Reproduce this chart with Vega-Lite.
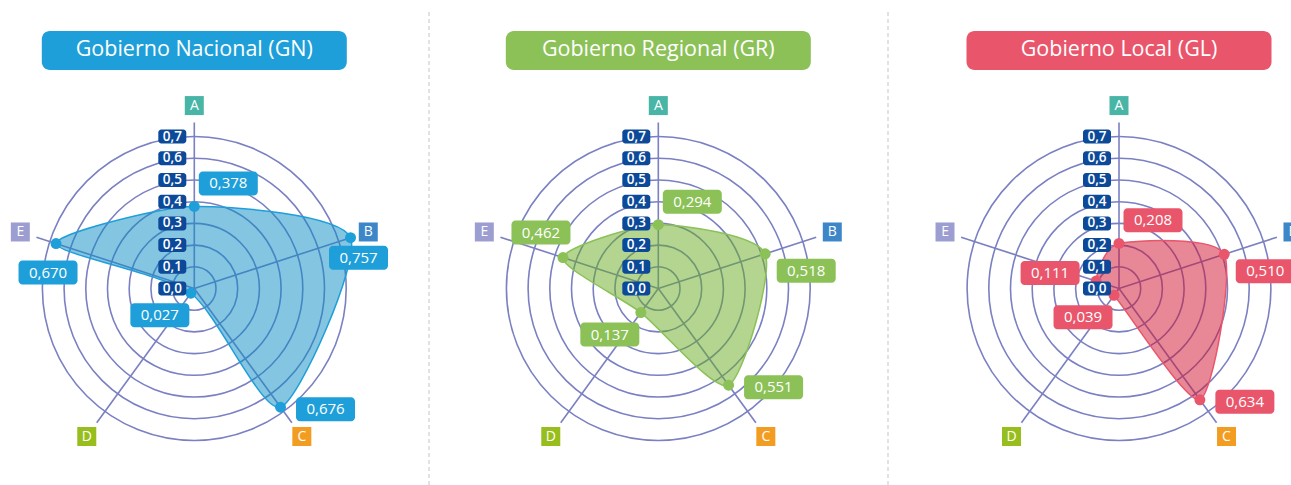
{
"$schema":"https://vega.github.io/schema/vega-lite/v6.json",
"padding":0,
"spacing":0,
"bounds":"flush",
"config":{"view":{"stroke":null},"locale":{"number":{"decimal":",","thousands":".","grouping":[3],"currency":["","€"]}},"text":{"font":"Open Sans"}},
"datasets":{
"vals":[
{"group":"GN","axis":"A","value":0.378},{"group":"GN","axis":"B","value":0.757},{"group":"GN","axis":"C","value":0.676},{"group":"GN","axis":"D","value":0.027},{"group":"GN","axis":"E","value":0.670},
{"group":"GR","axis":"A","value":0.294},{"group":"GR","axis":"B","value":0.518},{"group":"GR","axis":"C","value":0.551},{"group":"GR","axis":"D","value":0.137},{"group":"GR","axis":"E","value":0.462},
{"group":"GL","axis":"A","value":0.208},{"group":"GL","axis":"B","value":0.510},{"group":"GL","axis":"C","value":0.634},{"group":"GL","axis":"D","value":0.039},{"group":"GL","axis":"E","value":0.111}
],
"axes":[{"axis":"A"},{"axis":"B"},{"axis":"C"},{"axis":"D"},{"axis":"E"}],
"ticks":[{"r":0},{"r":0.1},{"r":0.2},{"r":0.3},{"r":0.4},{"r":0.5},{"r":0.6},{"r":0.7}],
"titles":[{"group":"GN","title":"Gobierno Nacional (GN)"},{"group":"GR","title":"Gobierno Regional (GR)"},{"group":"GL","title":"Gobierno Local (GL)"}]
},
"hconcat":[
{"width":429,"height":485,"layer":[
{"data":{"name":"titles"},"transform":[{"filter":"datum.group=='GN'"}],"mark":{"type":"rule","stroke":"#d9d9d9","strokeWidth":1.5,"strokeDash":[4,3]},"encoding":{"x":{"datum":1.0816,"type":"quantitative","scale":{"domain":[-0.8954,1.0816],"nice":false,"zero":false},"axis":null},"y":{"datum":1.2742,"type":"quantitative","scale":{"domain":[-0.9055,1.3295],"nice":false,"zero":false},"axis":null},"y2":{"datum":-0.9055}}},
{"data":{"name":"ticks"},"transform":[{"filter":"datum.r > 0"}],"mark":{"type":"point","shape":"circle","filled":false,"stroke":"#7a80c2","strokeWidth":1.6,"opacity":1},"encoding":{"x":{"datum":0,"type":"quantitative","scale":{"domain":[-0.8954,1.0816],"nice":false,"zero":false},"axis":null},"y":{"datum":0,"type":"quantitative","scale":{"domain":[-0.9055,1.3295],"nice":false,"zero":false},"axis":null},"size":{"field":"r","type":"quantitative","scale":{"type":"pow","exponent":2,"domain":[0,1],"range":[0,188356]},"legend":null}}},
{"data":{"name":"axes"},"transform":[{"calculate":"PI/2 - indexof(['A','B','C','D','E'], datum.axis)*2*PI/5","as":"ang"},{"calculate":"0.765*cos(datum.ang)","as":"ex"},{"calculate":"0.765*sin(datum.ang)","as":"ey"}],"mark":{"type":"rule","stroke":"#7a80c2","strokeWidth":1.6},"encoding":{"x":{"field":"ex","type":"quantitative","scale":{"domain":[-0.8954,1.0816],"nice":false,"zero":false},"axis":null},"y":{"field":"ey","type":"quantitative","scale":{"domain":[-0.9055,1.3295],"nice":false,"zero":false},"axis":null},"x2":{"datum":0},"y2":{"datum":0}}},
{"data":{"name":"vals"},"transform":[{"filter":"datum.group=='GN'"},{"calculate":"indexof(['A','B','C','D','E'], datum.axis)","as":"idx"},{"calculate":"PI/2 - datum.idx*2*PI/5","as":"ang"},{"calculate":"datum.value*cos(datum.ang)","as":"px"},{"calculate":"datum.value*sin(datum.ang)","as":"py"}],"mark":{"type":"line","interpolate":"cardinal-closed","tension":0.3,"filled":true,"fill":"#0a8cc4","fillOpacity":0.5,"stroke":"#1e9fd9","strokeWidth":1.5},"encoding":{"x":{"field":"px","type":"quantitative","scale":{"domain":[-0.8954,1.0816],"nice":false,"zero":false},"axis":null},"y":{"field":"py","type":"quantitative","scale":{"domain":[-0.9055,1.3295],"nice":false,"zero":false},"axis":null},"order":{"field":"idx","type":"quantitative"}}},
{"data":{"name":"vals"},"transform":[{"filter":"datum.group=='GN'"},{"calculate":"indexof(['A','B','C','D','E'], datum.axis)","as":"idx"},{"calculate":"PI/2 - datum.idx*2*PI/5","as":"ang"},{"calculate":"datum.value*cos(datum.ang)","as":"px"},{"calculate":"datum.value*sin(datum.ang)","as":"py"}],"mark":{"type":"point","shape":"circle","filled":true,"fill":"#1e9fd9","size":120,"opacity":1,"strokeWidth":0},"encoding":{"x":{"field":"px","type":"quantitative","scale":{"domain":[-0.8954,1.0816],"nice":false,"zero":false},"axis":null},"y":{"field":"py","type":"quantitative","scale":{"domain":[-0.9055,1.3295],"nice":false,"zero":false},"axis":null}}},
{"data":{"name":"ticks"},"mark":{"type":"point","shape":"M-33,-7H-11A3,3 0 0 1 -8,-4V4A3,3 0 0 1 -11,7H-33A3,3 0 0 1 -36,4V-4A3,3 0 0 1 -33,-7Z","size":4,"filled":true,"fill":"#0c4a99","opacity":1,"strokeWidth":0},"encoding":{"x":{"datum":0,"type":"quantitative","scale":{"domain":[-0.8954,1.0816],"nice":false,"zero":false},"axis":null},"y":{"field":"r","type":"quantitative","scale":{"domain":[-0.9055,1.3295],"nice":false,"zero":false},"axis":null}}},
{"data":{"name":"ticks"},"mark":{"type":"text","dx":-22,"align":"center","baseline":"middle","fontSize":13.5,"fontWeight":600,"fill":"#ffffff"},"encoding":{"x":{"datum":0,"type":"quantitative","scale":{"domain":[-0.8954,1.0816],"nice":false,"zero":false},"axis":null},"y":{"field":"r","type":"quantitative","scale":{"domain":[-0.9055,1.3295],"nice":false,"zero":false},"axis":null},"text":{"field":"r","type":"quantitative","format":".1f"}}},
{"data":{"name":"axes"},"transform":[{"calculate":"PI/2 - indexof(['A','B','C','D','E'], datum.axis)*2*PI/5","as":"ang"},{"calculate":"0.843*cos(datum.ang)","as":"lx"},{"calculate":"0.843*sin(datum.ang)","as":"ly"}],"mark":{"type":"point","shape":"square","size":361,"filled":true,"opacity":1,"strokeWidth":0},"encoding":{"x":{"field":"lx","type":"quantitative","scale":{"domain":[-0.8954,1.0816],"nice":false,"zero":false},"axis":null},"y":{"field":"ly","type":"quantitative","scale":{"domain":[-0.9055,1.3295],"nice":false,"zero":false},"axis":null},"color":{"field":"axis","type":"nominal","scale":{"domain":["A","B","C","D","E"],"range":["#48b5a7","#3d87c8","#f39c22","#97be1d","#9c9ed1"]},"legend":null}}},
{"data":{"name":"axes"},"transform":[{"calculate":"PI/2 - indexof(['A','B','C','D','E'], datum.axis)*2*PI/5","as":"ang"},{"calculate":"0.843*cos(datum.ang)","as":"lx"},{"calculate":"0.843*sin(datum.ang)","as":"ly"}],"mark":{"type":"text","align":"center","baseline":"middle","fontSize":14,"fill":"#ffffff"},"encoding":{"x":{"field":"lx","type":"quantitative","scale":{"domain":[-0.8954,1.0816],"nice":false,"zero":false},"axis":null},"y":{"field":"ly","type":"quantitative","scale":{"domain":[-0.9055,1.3295],"nice":false,"zero":false},"axis":null},"text":{"field":"axis","type":"nominal"}}},
{"data":{"name":"vals"},"transform":[{"filter":"datum.group=='GN'"},{"calculate":"PI/2 - indexof(['A','B','C','D','E'], datum.axis)*2*PI/5","as":"ang"},{"calculate":"datum.axis=='A' ? 34 : datum.axis=='B' ? (datum.group=='GN' ? 8 : 41) : datum.axis=='C' ? 45 : datum.axis=='D' ? -31 : (datum.group=='GN' ? -8 : datum.group=='GR' ? -22 : -46)","as":"ox"},{"calculate":"datum.axis=='A' ? -23 : datum.axis=='B' ? (datum.group=='GN' ? 20 : 17) : datum.axis=='C' ? 2 : datum.axis=='D' ? 22 : (datum.group=='GN' ? 29 : datum.group=='GR' ? -25 : -8)","as":"oy"},{"calculate":"datum.value*cos(datum.ang) + datum.ox/217","as":"lx"},{"calculate":"datum.value*sin(datum.ang) - datum.oy/217","as":"ly"}],"mark":{"type":"point","shape":"M-25.5,-12H25.5A4,4 0 0 1 29.5,-8V8A4,4 0 0 1 25.5,12H-25.5A4,4 0 0 1 -29.5,8V-8A4,4 0 0 1 -25.5,-12Z","size":4,"filled":true,"fill":"#1e9fd9","opacity":1,"strokeWidth":0},"encoding":{"x":{"field":"lx","type":"quantitative","scale":{"domain":[-0.8954,1.0816],"nice":false,"zero":false},"axis":null},"y":{"field":"ly","type":"quantitative","scale":{"domain":[-0.9055,1.3295],"nice":false,"zero":false},"axis":null}}},
{"data":{"name":"vals"},"transform":[{"filter":"datum.group=='GN'"},{"calculate":"PI/2 - indexof(['A','B','C','D','E'], datum.axis)*2*PI/5","as":"ang"},{"calculate":"datum.axis=='A' ? 34 : datum.axis=='B' ? (datum.group=='GN' ? 8 : 41) : datum.axis=='C' ? 45 : datum.axis=='D' ? -31 : (datum.group=='GN' ? -8 : datum.group=='GR' ? -22 : -46)","as":"ox"},{"calculate":"datum.axis=='A' ? -23 : datum.axis=='B' ? (datum.group=='GN' ? 20 : 17) : datum.axis=='C' ? 2 : datum.axis=='D' ? 22 : (datum.group=='GN' ? 29 : datum.group=='GR' ? -25 : -8)","as":"oy"},{"calculate":"datum.value*cos(datum.ang) + datum.ox/217","as":"lx"},{"calculate":"datum.value*sin(datum.ang) - datum.oy/217","as":"ly"}],"mark":{"type":"text","align":"center","baseline":"middle","fontSize":15,"fill":"#ffffff"},"encoding":{"x":{"field":"lx","type":"quantitative","scale":{"domain":[-0.8954,1.0816],"nice":false,"zero":false},"axis":null},"y":{"field":"ly","type":"quantitative","scale":{"domain":[-0.9055,1.3295],"nice":false,"zero":false},"axis":null},"text":{"field":"value","type":"quantitative","format":".3f"}}},
{"data":{"name":"titles"},"transform":[{"filter":"datum.group=='GN'"}],"mark":{"type":"point","shape":"M-144.5,-19.5H144.5A8,8 0 0 1 152.5,-11.5V11.5A8,8 0 0 1 144.5,19.5H-144.5A8,8 0 0 1 -152.5,11.5V-11.5A8,8 0 0 1 -144.5,-19.5Z","size":4,"filled":true,"fill":"#1e9fd9","opacity":1,"strokeWidth":0},"encoding":{"x":{"datum":0,"type":"quantitative","scale":{"domain":[-0.8954,1.0816],"nice":false,"zero":false},"axis":null},"y":{"datum":1.0968,"type":"quantitative","scale":{"domain":[-0.9055,1.3295],"nice":false,"zero":false},"axis":null}}},
{"data":{"name":"titles"},"transform":[{"filter":"datum.group=='GN'"}],"mark":{"type":"text","align":"center","baseline":"middle","fontSize":21.5,"fill":"#ffffff"},"encoding":{"x":{"datum":0,"type":"quantitative","scale":{"domain":[-0.8954,1.0816],"nice":false,"zero":false},"axis":null},"y":{"datum":1.0968,"type":"quantitative","scale":{"domain":[-0.9055,1.3295],"nice":false,"zero":false},"axis":null},"text":{"field":"title","type":"nominal"}}}
]},
{"width":459,"height":485,"layer":[
{"data":{"name":"titles"},"transform":[{"filter":"datum.group=='GR'"}],"mark":{"type":"rule","stroke":"#d9d9d9","strokeWidth":1.5,"strokeDash":[4,3]},"encoding":{"x":{"datum":1.0585,"type":"quantitative","scale":{"domain":[-1.0567,1.0585],"nice":false,"zero":false},"axis":null},"y":{"datum":1.2742,"type":"quantitative","scale":{"domain":[-0.9055,1.3295],"nice":false,"zero":false},"axis":null},"y2":{"datum":-0.9055}}},
{"data":{"name":"ticks"},"transform":[{"filter":"datum.r > 0"}],"mark":{"type":"point","shape":"circle","filled":false,"stroke":"#7a80c2","strokeWidth":1.6,"opacity":1},"encoding":{"x":{"datum":0,"type":"quantitative","scale":{"domain":[-1.0567,1.0585],"nice":false,"zero":false},"axis":null},"y":{"datum":0,"type":"quantitative","scale":{"domain":[-0.9055,1.3295],"nice":false,"zero":false},"axis":null},"size":{"field":"r","type":"quantitative","scale":{"type":"pow","exponent":2,"domain":[0,1],"range":[0,188356]},"legend":null}}},
{"data":{"name":"axes"},"transform":[{"calculate":"PI/2 - indexof(['A','B','C','D','E'], datum.axis)*2*PI/5","as":"ang"},{"calculate":"0.765*cos(datum.ang)","as":"ex"},{"calculate":"0.765*sin(datum.ang)","as":"ey"}],"mark":{"type":"rule","stroke":"#7a80c2","strokeWidth":1.6},"encoding":{"x":{"field":"ex","type":"quantitative","scale":{"domain":[-1.0567,1.0585],"nice":false,"zero":false},"axis":null},"y":{"field":"ey","type":"quantitative","scale":{"domain":[-0.9055,1.3295],"nice":false,"zero":false},"axis":null},"x2":{"datum":0},"y2":{"datum":0}}},
{"data":{"name":"vals"},"transform":[{"filter":"datum.group=='GR'"},{"calculate":"indexof(['A','B','C','D','E'], datum.axis)","as":"idx"},{"calculate":"PI/2 - datum.idx*2*PI/5","as":"ang"},{"calculate":"datum.value*cos(datum.ang)","as":"px"},{"calculate":"datum.value*sin(datum.ang)","as":"py"}],"mark":{"type":"line","interpolate":"cardinal-closed","tension":0.3,"filled":true,"fill":"#67ab1f","fillOpacity":0.5,"stroke":"#8bc157","strokeWidth":1.5},"encoding":{"x":{"field":"px","type":"quantitative","scale":{"domain":[-1.0567,1.0585],"nice":false,"zero":false},"axis":null},"y":{"field":"py","type":"quantitative","scale":{"domain":[-0.9055,1.3295],"nice":false,"zero":false},"axis":null},"order":{"field":"idx","type":"quantitative"}}},
{"data":{"name":"vals"},"transform":[{"filter":"datum.group=='GR'"},{"calculate":"indexof(['A','B','C','D','E'], datum.axis)","as":"idx"},{"calculate":"PI/2 - datum.idx*2*PI/5","as":"ang"},{"calculate":"datum.value*cos(datum.ang)","as":"px"},{"calculate":"datum.value*sin(datum.ang)","as":"py"}],"mark":{"type":"point","shape":"circle","filled":true,"fill":"#8bc157","size":120,"opacity":1,"strokeWidth":0},"encoding":{"x":{"field":"px","type":"quantitative","scale":{"domain":[-1.0567,1.0585],"nice":false,"zero":false},"axis":null},"y":{"field":"py","type":"quantitative","scale":{"domain":[-0.9055,1.3295],"nice":false,"zero":false},"axis":null}}},
{"data":{"name":"ticks"},"mark":{"type":"point","shape":"M-33,-7H-11A3,3 0 0 1 -8,-4V4A3,3 0 0 1 -11,7H-33A3,3 0 0 1 -36,4V-4A3,3 0 0 1 -33,-7Z","size":4,"filled":true,"fill":"#0c4a99","opacity":1,"strokeWidth":0},"encoding":{"x":{"datum":0,"type":"quantitative","scale":{"domain":[-1.0567,1.0585],"nice":false,"zero":false},"axis":null},"y":{"field":"r","type":"quantitative","scale":{"domain":[-0.9055,1.3295],"nice":false,"zero":false},"axis":null}}},
{"data":{"name":"ticks"},"mark":{"type":"text","dx":-22,"align":"center","baseline":"middle","fontSize":13.5,"fontWeight":600,"fill":"#ffffff"},"encoding":{"x":{"datum":0,"type":"quantitative","scale":{"domain":[-1.0567,1.0585],"nice":false,"zero":false},"axis":null},"y":{"field":"r","type":"quantitative","scale":{"domain":[-0.9055,1.3295],"nice":false,"zero":false},"axis":null},"text":{"field":"r","type":"quantitative","format":".1f"}}},
{"data":{"name":"axes"},"transform":[{"calculate":"PI/2 - indexof(['A','B','C','D','E'], datum.axis)*2*PI/5","as":"ang"},{"calculate":"0.843*cos(datum.ang)","as":"lx"},{"calculate":"0.843*sin(datum.ang)","as":"ly"}],"mark":{"type":"point","shape":"square","size":361,"filled":true,"opacity":1,"strokeWidth":0},"encoding":{"x":{"field":"lx","type":"quantitative","scale":{"domain":[-1.0567,1.0585],"nice":false,"zero":false},"axis":null},"y":{"field":"ly","type":"quantitative","scale":{"domain":[-0.9055,1.3295],"nice":false,"zero":false},"axis":null},"color":{"field":"axis","type":"nominal","scale":{"domain":["A","B","C","D","E"],"range":["#48b5a7","#3d87c8","#f39c22","#97be1d","#9c9ed1"]},"legend":null}}},
{"data":{"name":"axes"},"transform":[{"calculate":"PI/2 - indexof(['A','B','C','D','E'], datum.axis)*2*PI/5","as":"ang"},{"calculate":"0.843*cos(datum.ang)","as":"lx"},{"calculate":"0.843*sin(datum.ang)","as":"ly"}],"mark":{"type":"text","align":"center","baseline":"middle","fontSize":14,"fill":"#ffffff"},"encoding":{"x":{"field":"lx","type":"quantitative","scale":{"domain":[-1.0567,1.0585],"nice":false,"zero":false},"axis":null},"y":{"field":"ly","type":"quantitative","scale":{"domain":[-0.9055,1.3295],"nice":false,"zero":false},"axis":null},"text":{"field":"axis","type":"nominal"}}},
{"data":{"name":"vals"},"transform":[{"filter":"datum.group=='GR'"},{"calculate":"PI/2 - indexof(['A','B','C','D','E'], datum.axis)*2*PI/5","as":"ang"},{"calculate":"datum.axis=='A' ? 34 : datum.axis=='B' ? (datum.group=='GN' ? 8 : 41) : datum.axis=='C' ? 45 : datum.axis=='D' ? -31 : (datum.group=='GN' ? -8 : datum.group=='GR' ? -22 : -46)","as":"ox"},{"calculate":"datum.axis=='A' ? -23 : datum.axis=='B' ? (datum.group=='GN' ? 20 : 17) : datum.axis=='C' ? 2 : datum.axis=='D' ? 22 : (datum.group=='GN' ? 29 : datum.group=='GR' ? -25 : -8)","as":"oy"},{"calculate":"datum.value*cos(datum.ang) + datum.ox/217","as":"lx"},{"calculate":"datum.value*sin(datum.ang) - datum.oy/217","as":"ly"}],"mark":{"type":"point","shape":"M-25.5,-12H25.5A4,4 0 0 1 29.5,-8V8A4,4 0 0 1 25.5,12H-25.5A4,4 0 0 1 -29.5,8V-8A4,4 0 0 1 -25.5,-12Z","size":4,"filled":true,"fill":"#8bc157","opacity":1,"strokeWidth":0},"encoding":{"x":{"field":"lx","type":"quantitative","scale":{"domain":[-1.0567,1.0585],"nice":false,"zero":false},"axis":null},"y":{"field":"ly","type":"quantitative","scale":{"domain":[-0.9055,1.3295],"nice":false,"zero":false},"axis":null}}},
{"data":{"name":"vals"},"transform":[{"filter":"datum.group=='GR'"},{"calculate":"PI/2 - indexof(['A','B','C','D','E'], datum.axis)*2*PI/5","as":"ang"},{"calculate":"datum.axis=='A' ? 34 : datum.axis=='B' ? (datum.group=='GN' ? 8 : 41) : datum.axis=='C' ? 45 : datum.axis=='D' ? -31 : (datum.group=='GN' ? -8 : datum.group=='GR' ? -22 : -46)","as":"ox"},{"calculate":"datum.axis=='A' ? -23 : datum.axis=='B' ? (datum.group=='GN' ? 20 : 17) : datum.axis=='C' ? 2 : datum.axis=='D' ? 22 : (datum.group=='GN' ? 29 : datum.group=='GR' ? -25 : -8)","as":"oy"},{"calculate":"datum.value*cos(datum.ang) + datum.ox/217","as":"lx"},{"calculate":"datum.value*sin(datum.ang) - datum.oy/217","as":"ly"}],"mark":{"type":"text","align":"center","baseline":"middle","fontSize":15,"fill":"#ffffff"},"encoding":{"x":{"field":"lx","type":"quantitative","scale":{"domain":[-1.0567,1.0585],"nice":false,"zero":false},"axis":null},"y":{"field":"ly","type":"quantitative","scale":{"domain":[-0.9055,1.3295],"nice":false,"zero":false},"axis":null},"text":{"field":"value","type":"quantitative","format":".3f"}}},
{"data":{"name":"titles"},"transform":[{"filter":"datum.group=='GR'"}],"mark":{"type":"point","shape":"M-144.5,-19.5H144.5A8,8 0 0 1 152.5,-11.5V11.5A8,8 0 0 1 144.5,19.5H-144.5A8,8 0 0 1 -152.5,11.5V-11.5A8,8 0 0 1 -144.5,-19.5Z","size":4,"filled":true,"fill":"#8bc157","opacity":1,"strokeWidth":0},"encoding":{"x":{"datum":0,"type":"quantitative","scale":{"domain":[-1.0567,1.0585],"nice":false,"zero":false},"axis":null},"y":{"datum":1.0968,"type":"quantitative","scale":{"domain":[-0.9055,1.3295],"nice":false,"zero":false},"axis":null}}},
{"data":{"name":"titles"},"transform":[{"filter":"datum.group=='GR'"}],"mark":{"type":"text","align":"center","baseline":"middle","fontSize":21.5,"fill":"#ffffff"},"encoding":{"x":{"datum":0,"type":"quantitative","scale":{"domain":[-1.0567,1.0585],"nice":false,"zero":false},"axis":null},"y":{"datum":1.0968,"type":"quantitative","scale":{"domain":[-0.9055,1.3295],"nice":false,"zero":false},"axis":null},"text":{"field":"title","type":"nominal"}}}
]},
{"width":403,"height":485,"layer":[
{"data":{"name":"ticks"},"transform":[{"filter":"datum.r > 0"}],"mark":{"type":"point","shape":"circle","filled":false,"stroke":"#7a80c2","strokeWidth":1.6,"opacity":1,"clip":true},"encoding":{"x":{"datum":0,"type":"quantitative","scale":{"domain":[-1.0645,0.7926],"nice":false,"zero":false},"axis":null},"y":{"datum":0,"type":"quantitative","scale":{"domain":[-0.9055,1.3295],"nice":false,"zero":false},"axis":null},"size":{"field":"r","type":"quantitative","scale":{"type":"pow","exponent":2,"domain":[0,1],"range":[0,188356]},"legend":null}}},
{"data":{"name":"axes"},"transform":[{"calculate":"PI/2 - indexof(['A','B','C','D','E'], datum.axis)*2*PI/5","as":"ang"},{"calculate":"0.765*cos(datum.ang)","as":"ex"},{"calculate":"0.765*sin(datum.ang)","as":"ey"}],"mark":{"type":"rule","stroke":"#7a80c2","strokeWidth":1.6,"clip":true},"encoding":{"x":{"field":"ex","type":"quantitative","scale":{"domain":[-1.0645,0.7926],"nice":false,"zero":false},"axis":null},"y":{"field":"ey","type":"quantitative","scale":{"domain":[-0.9055,1.3295],"nice":false,"zero":false},"axis":null},"x2":{"datum":0},"y2":{"datum":0}}},
{"data":{"name":"vals"},"transform":[{"filter":"datum.group=='GL'"},{"calculate":"indexof(['A','B','C','D','E'], datum.axis)","as":"idx"},{"calculate":"PI/2 - datum.idx*2*PI/5","as":"ang"},{"calculate":"datum.value*cos(datum.ang)","as":"px"},{"calculate":"datum.value*sin(datum.ang)","as":"py"}],"mark":{"type":"line","interpolate":"cardinal-closed","tension":0.3,"filled":true,"fill":"#d10f2d","fillOpacity":0.5,"stroke":"#e9566b","strokeWidth":1.5,"clip":true},"encoding":{"x":{"field":"px","type":"quantitative","scale":{"domain":[-1.0645,0.7926],"nice":false,"zero":false},"axis":null},"y":{"field":"py","type":"quantitative","scale":{"domain":[-0.9055,1.3295],"nice":false,"zero":false},"axis":null},"order":{"field":"idx","type":"quantitative"}}},
{"data":{"name":"vals"},"transform":[{"filter":"datum.group=='GL'"},{"calculate":"indexof(['A','B','C','D','E'], datum.axis)","as":"idx"},{"calculate":"PI/2 - datum.idx*2*PI/5","as":"ang"},{"calculate":"datum.value*cos(datum.ang)","as":"px"},{"calculate":"datum.value*sin(datum.ang)","as":"py"}],"mark":{"type":"point","shape":"circle","filled":true,"fill":"#e9566b","size":120,"opacity":1,"strokeWidth":0,"clip":true},"encoding":{"x":{"field":"px","type":"quantitative","scale":{"domain":[-1.0645,0.7926],"nice":false,"zero":false},"axis":null},"y":{"field":"py","type":"quantitative","scale":{"domain":[-0.9055,1.3295],"nice":false,"zero":false},"axis":null}}},
{"data":{"name":"ticks"},"mark":{"type":"point","shape":"M-33,-7H-11A3,3 0 0 1 -8,-4V4A3,3 0 0 1 -11,7H-33A3,3 0 0 1 -36,4V-4A3,3 0 0 1 -33,-7Z","size":4,"filled":true,"fill":"#0c4a99","opacity":1,"strokeWidth":0,"clip":true},"encoding":{"x":{"datum":0,"type":"quantitative","scale":{"domain":[-1.0645,0.7926],"nice":false,"zero":false},"axis":null},"y":{"field":"r","type":"quantitative","scale":{"domain":[-0.9055,1.3295],"nice":false,"zero":false},"axis":null}}},
{"data":{"name":"ticks"},"mark":{"type":"text","dx":-22,"align":"center","baseline":"middle","fontSize":13.5,"fontWeight":600,"fill":"#ffffff","clip":true},"encoding":{"x":{"datum":0,"type":"quantitative","scale":{"domain":[-1.0645,0.7926],"nice":false,"zero":false},"axis":null},"y":{"field":"r","type":"quantitative","scale":{"domain":[-0.9055,1.3295],"nice":false,"zero":false},"axis":null},"text":{"field":"r","type":"quantitative","format":".1f"}}},
{"data":{"name":"axes"},"transform":[{"calculate":"PI/2 - indexof(['A','B','C','D','E'], datum.axis)*2*PI/5","as":"ang"},{"calculate":"0.843*cos(datum.ang)","as":"lx"},{"calculate":"0.843*sin(datum.ang)","as":"ly"}],"mark":{"type":"point","shape":"square","size":361,"filled":true,"opacity":1,"strokeWidth":0,"clip":true},"encoding":{"x":{"field":"lx","type":"quantitative","scale":{"domain":[-1.0645,0.7926],"nice":false,"zero":false},"axis":null},"y":{"field":"ly","type":"quantitative","scale":{"domain":[-0.9055,1.3295],"nice":false,"zero":false},"axis":null},"color":{"field":"axis","type":"nominal","scale":{"domain":["A","B","C","D","E"],"range":["#48b5a7","#3d87c8","#f39c22","#97be1d","#9c9ed1"]},"legend":null}}},
{"data":{"name":"axes"},"transform":[{"calculate":"PI/2 - indexof(['A','B','C','D','E'], datum.axis)*2*PI/5","as":"ang"},{"calculate":"0.843*cos(datum.ang)","as":"lx"},{"calculate":"0.843*sin(datum.ang)","as":"ly"}],"mark":{"type":"text","align":"center","baseline":"middle","fontSize":14,"fill":"#ffffff","clip":true},"encoding":{"x":{"field":"lx","type":"quantitative","scale":{"domain":[-1.0645,0.7926],"nice":false,"zero":false},"axis":null},"y":{"field":"ly","type":"quantitative","scale":{"domain":[-0.9055,1.3295],"nice":false,"zero":false},"axis":null},"text":{"field":"axis","type":"nominal"}}},
{"data":{"name":"vals"},"transform":[{"filter":"datum.group=='GL'"},{"calculate":"PI/2 - indexof(['A','B','C','D','E'], datum.axis)*2*PI/5","as":"ang"},{"calculate":"datum.axis=='A' ? 34 : datum.axis=='B' ? (datum.group=='GN' ? 8 : 41) : datum.axis=='C' ? 45 : datum.axis=='D' ? -31 : (datum.group=='GN' ? -8 : datum.group=='GR' ? -22 : -46)","as":"ox"},{"calculate":"datum.axis=='A' ? -23 : datum.axis=='B' ? (datum.group=='GN' ? 20 : 17) : datum.axis=='C' ? 2 : datum.axis=='D' ? 22 : (datum.group=='GN' ? 29 : datum.group=='GR' ? -25 : -8)","as":"oy"},{"calculate":"datum.value*cos(datum.ang) + datum.ox/217","as":"lx"},{"calculate":"datum.value*sin(datum.ang) - datum.oy/217","as":"ly"}],"mark":{"type":"point","shape":"M-25.5,-12H25.5A4,4 0 0 1 29.5,-8V8A4,4 0 0 1 25.5,12H-25.5A4,4 0 0 1 -29.5,8V-8A4,4 0 0 1 -25.5,-12Z","size":4,"filled":true,"fill":"#e9566b","opacity":1,"strokeWidth":0,"clip":true},"encoding":{"x":{"field":"lx","type":"quantitative","scale":{"domain":[-1.0645,0.7926],"nice":false,"zero":false},"axis":null},"y":{"field":"ly","type":"quantitative","scale":{"domain":[-0.9055,1.3295],"nice":false,"zero":false},"axis":null}}},
{"data":{"name":"vals"},"transform":[{"filter":"datum.group=='GL'"},{"calculate":"PI/2 - indexof(['A','B','C','D','E'], datum.axis)*2*PI/5","as":"ang"},{"calculate":"datum.axis=='A' ? 34 : datum.axis=='B' ? (datum.group=='GN' ? 8 : 41) : datum.axis=='C' ? 45 : datum.axis=='D' ? -31 : (datum.group=='GN' ? -8 : datum.group=='GR' ? -22 : -46)","as":"ox"},{"calculate":"datum.axis=='A' ? -23 : datum.axis=='B' ? (datum.group=='GN' ? 20 : 17) : datum.axis=='C' ? 2 : datum.axis=='D' ? 22 : (datum.group=='GN' ? 29 : datum.group=='GR' ? -25 : -8)","as":"oy"},{"calculate":"datum.value*cos(datum.ang) + datum.ox/217","as":"lx"},{"calculate":"datum.value*sin(datum.ang) - datum.oy/217","as":"ly"}],"mark":{"type":"text","align":"center","baseline":"middle","fontSize":15,"fill":"#ffffff","clip":true},"encoding":{"x":{"field":"lx","type":"quantitative","scale":{"domain":[-1.0645,0.7926],"nice":false,"zero":false},"axis":null},"y":{"field":"ly","type":"quantitative","scale":{"domain":[-0.9055,1.3295],"nice":false,"zero":false},"axis":null},"text":{"field":"value","type":"quantitative","format":".3f"}}},
{"data":{"name":"titles"},"transform":[{"filter":"datum.group=='GL'"}],"mark":{"type":"point","shape":"M-144.5,-19.5H144.5A8,8 0 0 1 152.5,-11.5V11.5A8,8 0 0 1 144.5,19.5H-144.5A8,8 0 0 1 -152.5,11.5V-11.5A8,8 0 0 1 -144.5,-19.5Z","size":4,"filled":true,"fill":"#e9566b","opacity":1,"strokeWidth":0,"clip":true},"encoding":{"x":{"datum":0,"type":"quantitative","scale":{"domain":[-1.0645,0.7926],"nice":false,"zero":false},"axis":null},"y":{"datum":1.0968,"type":"quantitative","scale":{"domain":[-0.9055,1.3295],"nice":false,"zero":false},"axis":null}}},
{"data":{"name":"titles"},"transform":[{"filter":"datum.group=='GL'"}],"mark":{"type":"text","align":"center","baseline":"middle","fontSize":21.5,"fill":"#ffffff","clip":true},"encoding":{"x":{"datum":0,"type":"quantitative","scale":{"domain":[-1.0645,0.7926],"nice":false,"zero":false},"axis":null},"y":{"datum":1.0968,"type":"quantitative","scale":{"domain":[-0.9055,1.3295],"nice":false,"zero":false},"axis":null},"text":{"field":"title","type":"nominal"}}}
]}
]
}
